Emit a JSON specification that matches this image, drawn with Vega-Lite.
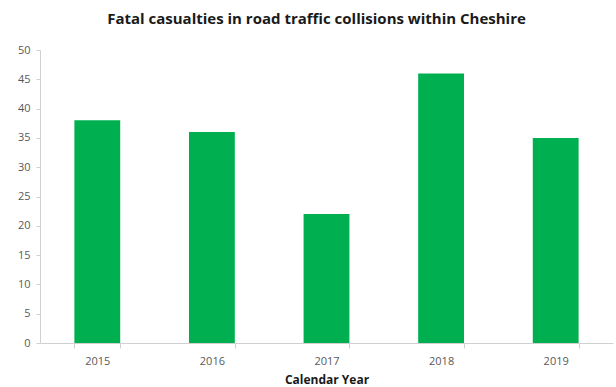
{
  "$schema": "https://vega.github.io/schema/vega-lite/v6.json",
  "autosize": "none",
  "width": 573,
  "height": 293,
  "padding": {"left": 40, "top": 50, "right": 3, "bottom": 44},
  "background": "white",
  "title": {
    "text": "Fatal casualties in road traffic collisions within Cheshire",
    "font": "Open Sans",
    "fontSize": 15,
    "fontWeight": "bold",
    "color": "#1a1a1a",
    "anchor": "middle",
    "dx": -10,
    "offset": 17
  },
  "data": {
    "values": [
      {"year": "2015", "casualties": 38},
      {"year": "2016", "casualties": 36},
      {"year": "2017", "casualties": 22},
      {"year": "2018", "casualties": 46},
      {"year": "2019", "casualties": 35}
    ]
  },
  "mark": {"type": "bar", "color": "#00b050"},
  "encoding": {
    "x": {
      "field": "year",
      "type": "nominal",
      "scale": {"paddingInner": 0.6, "paddingOuter": 0.3},
      "axis": {
        "title": "Calendar Year",
        "labelAngle": 0,
        "tickBand": "extent",
        "tickSize": 5,
        "labelPadding": 7,
        "titlePadding": 8
      }
    },
    "y": {
      "field": "casualties",
      "type": "quantitative",
      "scale": {"domain": [0, 50]},
      "axis": {
        "title": null,
        "values": [0, 5, 10, 15, 20, 25, 30, 35, 40, 45, 50],
        "grid": false,
        "tickSize": 4,
        "labelPadding": 6
      }
    }
  },
  "config": {
    "view": {"stroke": null},
    "axis": {
      "domainColor": "#d0d0d0",
      "tickColor": "#d0d0d0",
      "labelFont": "Open Sans",
      "labelFontSize": 11,
      "labelColor": "#595959",
      "titleFont": "Open Sans",
      "titleFontSize": 12,
      "titleFontWeight": "bold",
      "titleColor": "#1a1a1a"
    }
  }
}
